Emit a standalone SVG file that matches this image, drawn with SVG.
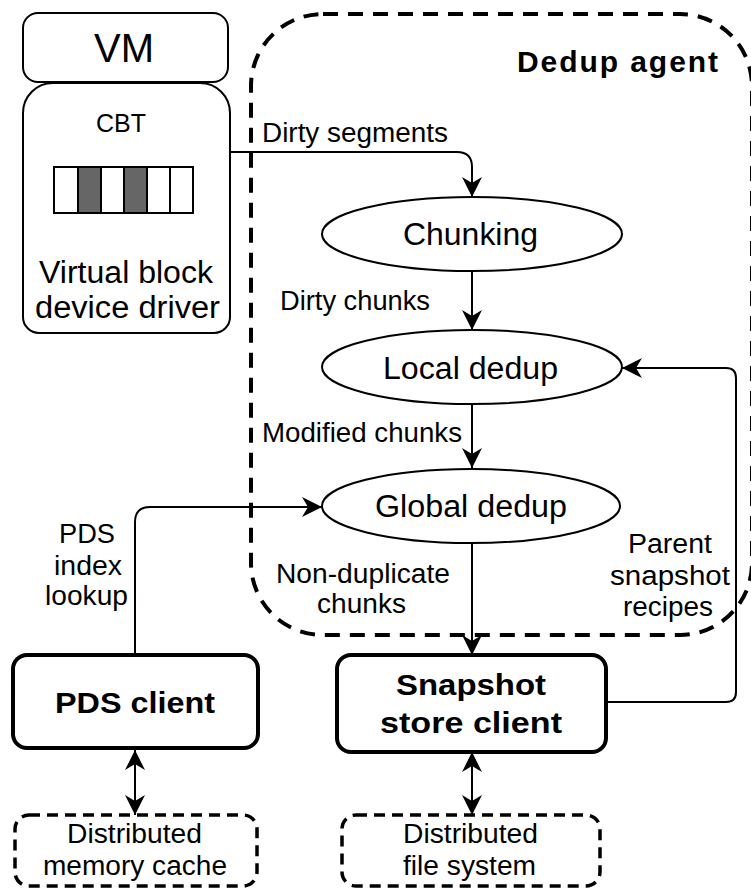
<svg xmlns="http://www.w3.org/2000/svg" width="751" height="889" viewBox="0 0 751 889">
<style>
text{font-family:"Liberation Sans",Arial,sans-serif;fill:#000;text-anchor:middle}
.b{font-weight:bold;font-size:30px}
.l{font-size:27px}
.n{font-size:31px}
.ln{fill:none;stroke:#000;stroke-width:2}
.node{fill:#fff;stroke:#000;stroke-width:2}
.thick{fill:#fff;stroke:#000;stroke-width:4}
.dash{fill:none;stroke:#000;stroke-width:4;stroke-dasharray:15 10}
.dash2{fill:#fff;stroke:#000;stroke-width:3.5;stroke-dasharray:11 7}
</style>
<defs>
<marker id="ah" viewBox="0 0 20 20" refX="20" refY="10" markerWidth="20" markerHeight="20" orient="auto-start-reverse" markerUnits="userSpaceOnUse">
<path d="M20,10 L0,0 L6,10 L0,20 Z" fill="#000"/>
</marker>
</defs>
<rect width="751" height="889" fill="#fff"/>

<g id="dedup-agent">
<rect class="dash" x="251" y="14" width="501" height="621" rx="72"/>
<text class="b" x="617.5" y="72" textLength="201" lengthAdjust="spacing">Dedup agent</text>
</g>

<g id="vm">
<rect class="node" x="23" y="13" width="205" height="69" rx="15"/>
<text x="124" y="62" font-size="40">VM</text>
</g>

<g id="driver">
<path class="node" d="M53,83 H200 A30,30 0 0 1 230,113 V317 A16,16 0 0 1 214,333 H39 A16,16 0 0 1 23,317 V113 A30,30 0 0 1 53,83 Z"/>
<text x="121" y="132" font-size="25">CBT</text>
<g stroke="#000" stroke-width="2">
<rect x="54" y="167" width="24" height="46" fill="#fff"/>
<rect x="78" y="167" width="23" height="46" fill="#666"/>
<rect x="101" y="167" width="23" height="46" fill="#fff"/>
<rect x="124" y="167" width="23" height="46" fill="#666"/>
<rect x="147" y="167" width="23" height="46" fill="#fff"/>
<rect x="170" y="167" width="23" height="46" fill="#fff"/>
</g>
<text class="n" x="126" y="283" textLength="174" lengthAdjust="spacingAndGlyphs">Virtual block</text>
<text class="n" x="127.5" y="318" textLength="185" lengthAdjust="spacingAndGlyphs">device driver</text>
</g>

<g id="chunking">
<ellipse class="node" cx="472" cy="234" rx="150" ry="37"/>
<text class="n" x="470.5" y="245" textLength="135" lengthAdjust="spacingAndGlyphs">Chunking</text>
</g>

<g id="local-dedup">
<ellipse class="node" cx="472" cy="367" rx="150" ry="37"/>
<text class="n" x="470.5" y="379" textLength="175" lengthAdjust="spacingAndGlyphs">Local dedup</text>
</g>

<g id="global-dedup">
<ellipse class="node" cx="471" cy="506" rx="149" ry="37"/>
<text class="n" x="471" y="517" textLength="192" lengthAdjust="spacingAndGlyphs">Global dedup</text>
</g>

<g id="pds-client">
<rect class="thick" x="13" y="655" width="245" height="93" rx="14"/>
<text class="b" x="135" y="713" textLength="160" lengthAdjust="spacingAndGlyphs">PDS client</text>
</g>

<g id="snapshot-store-client">
<rect class="thick" x="337" y="655" width="269" height="97" rx="14"/>
<text class="b" x="471" y="695" textLength="150" lengthAdjust="spacingAndGlyphs">Snapshot</text>
<text class="b" x="471" y="733" textLength="182" lengthAdjust="spacingAndGlyphs">store client</text>
</g>

<g id="memory-cache">
<rect class="dash2" x="15" y="815" width="242" height="71" rx="14"/>
<text class="l" x="134.5" y="843" textLength="135" lengthAdjust="spacingAndGlyphs">Distributed</text>
<text class="l" x="135" y="875" textLength="184" lengthAdjust="spacingAndGlyphs">memory cache</text>
</g>

<g id="file-system">
<rect class="dash2" x="342" y="815" width="258" height="71" rx="14"/>
<text class="l" x="470.5" y="843" textLength="135" lengthAdjust="spacingAndGlyphs">Distributed</text>
<text class="l" x="469.5" y="875" textLength="133" lengthAdjust="spacingAndGlyphs">file system</text>
</g>

<g id="connectors">
<path class="ln" d="M230,152 H457 Q472,152 472,167 V197" marker-end="url(#ah)"/>
<path class="ln" d="M472,271 V330" marker-end="url(#ah)"/>
<path class="ln" d="M472,404 V468" marker-end="url(#ah)"/>
<path class="ln" d="M472,543 V655" marker-end="url(#ah)"/>
<path class="ln" d="M606,702 H726 Q736,702 736,692 V378 Q736,368 726,368 H622" marker-end="url(#ah)"/>
<path class="ln" d="M135,655 V522 Q135,507 150,507 H322" marker-end="url(#ah)"/>
<path class="ln" d="M135,750 V815" marker-start="url(#ah)" marker-end="url(#ah)"/>
<path class="ln" d="M472,752 V815" marker-start="url(#ah)" marker-end="url(#ah)"/>
<text class="l" x="355" y="142" textLength="186" lengthAdjust="spacingAndGlyphs">Dirty segments</text>
<text class="l" x="355" y="310" textLength="150" lengthAdjust="spacingAndGlyphs">Dirty chunks</text>
<text class="l" x="362" y="442" textLength="200" lengthAdjust="spacingAndGlyphs">Modified chunks</text>
<text class="l" x="363" y="583" textLength="174" lengthAdjust="spacingAndGlyphs">Non-duplicate</text>
<text class="l" x="361.5" y="613" textLength="89" lengthAdjust="spacingAndGlyphs">chunks</text>
<text class="l" x="670" y="553" textLength="84" lengthAdjust="spacingAndGlyphs">Parent</text>
<text class="l" x="670" y="585" textLength="120" lengthAdjust="spacingAndGlyphs">snapshot</text>
<text class="l" x="668" y="616" textLength="90" lengthAdjust="spacingAndGlyphs">recipes</text>
<text class="l" x="87" y="543" textLength="56" lengthAdjust="spacingAndGlyphs">PDS</text>
<text class="l" x="88" y="575" textLength="68" lengthAdjust="spacingAndGlyphs">index</text>
<text class="l" x="86.5" y="605" textLength="83" lengthAdjust="spacingAndGlyphs">lookup</text>
</g>
</svg>
